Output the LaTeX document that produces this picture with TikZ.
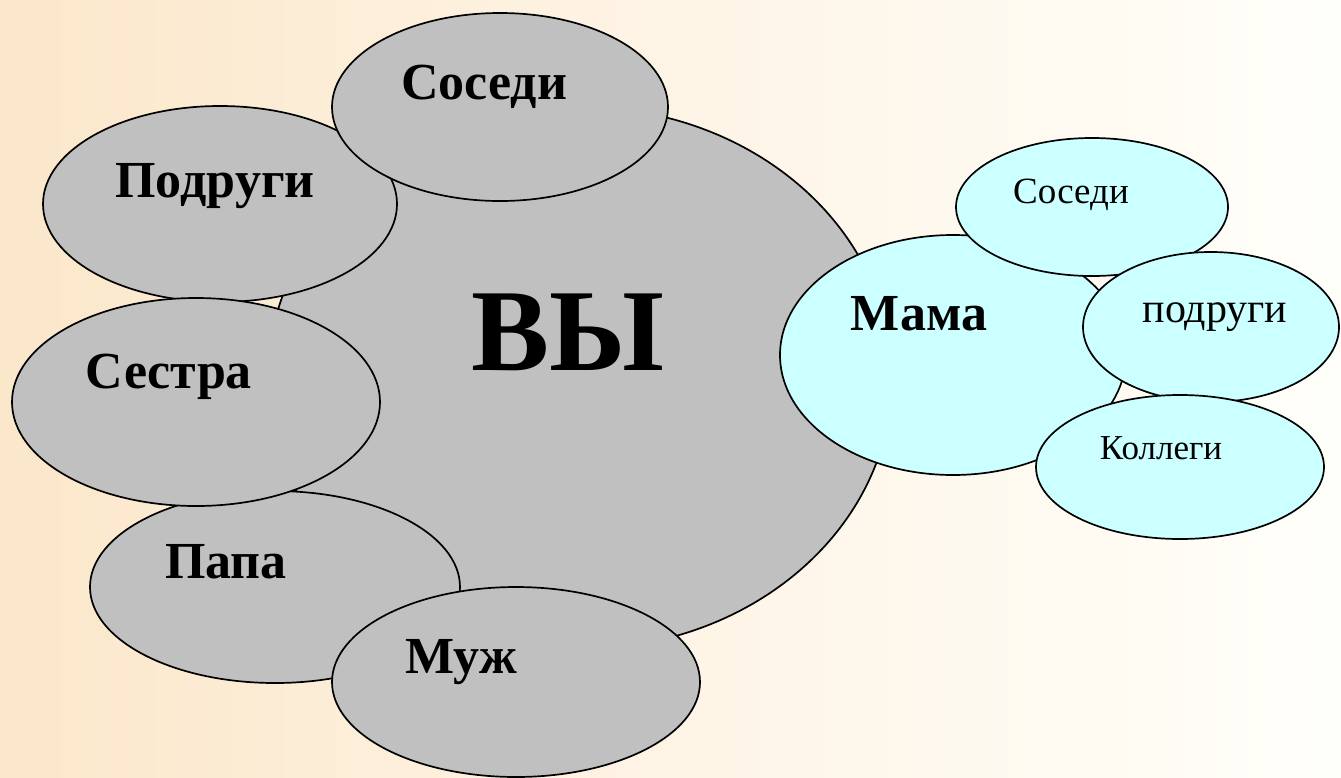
\documentclass[tikz,border=0pt]{standalone}
\usepackage{fontspec}
\setmainfont{Liberation Serif}
\begin{document}
\begin{tikzpicture}[x=1pt,y=-1pt,
  graybub/.style={fill={rgb,255:red,192;green,192;blue,192},draw=black,line width=1.7pt},
  cyanbub/.style={fill={rgb,255:red,204;green,255;blue,255},draw=black,line width=1.7pt},
  lbl/.style={anchor=base,inner sep=0pt,text=black},
  big/.style={lbl,font=\fontsize{52}{60}\selectfont\bfseries}]
\useasboundingbox (0,0) rectangle (1341,777);
\shade[left color={rgb,255:red,251;green,231;blue,202},right color={rgb,255:red,255;green,255;blue,250},middle color={rgb,255:red,254;green,244;blue,230}] (0,0) rectangle (1341,777);
% main gray group
\path[graybub] (580,378) ellipse [x radius=312, y radius=271];
\path[graybub] (220,204) ellipse [x radius=177, y radius=98];
\path[graybub] (500,107) ellipse [x radius=168, y radius=94];
\path[graybub] (275,587) ellipse [x radius=185, y radius=96];
\path[graybub] (196,402) ellipse [x radius=184, y radius=104];
\path[graybub] (516,682) ellipse [x radius=184, y radius=95];
% cyan group
\path[cyanbub] (953,355) ellipse [x radius=173, y radius=120];
\path[cyanbub] (1092,207) ellipse [x radius=136, y radius=69];
\path[cyanbub] (1211,327) ellipse [x radius=128, y radius=75];
\path[cyanbub] (1180,467) ellipse [x radius=144, y radius=72];
% labels
\node[lbl,font=\fontsize{117}{130}\selectfont\bfseries] (vy) at (568,370) {ВЫ};
\node[big] (sosedi) at (484,99) {Соседи};
\node[big] (podrugi) at (215,197) {Подруги};
\node[big] (sestra) at (169,388) {Сестра};
\node[big] (papa) at (226,578) {Папа};
\node[big] (muzh) at (461,673) {Муж};
\node[big] (mama) at (919,330) {Мама};
\node[lbl,font=\fontsize{37}{44}\selectfont] (sosedi2) at (1071,203) {Соседи};
\node[lbl,font=\fontsize{42}{50}\selectfont] (podrugi2) at (1215,322) {подруги};
\node[lbl,font=\fontsize{35}{42}\selectfont] (kollegi) at (1161,459) {Коллеги};
\end{tikzpicture}
\end{document}
